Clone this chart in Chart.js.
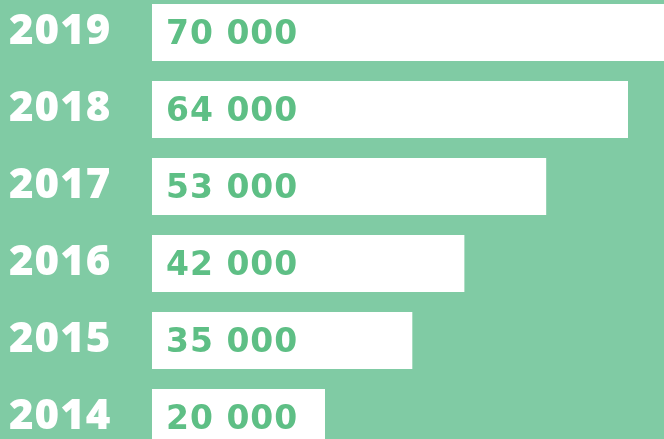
<!DOCTYPE html>
<html>
<head>
<meta charset="utf-8">
<script src="https://cdn.jsdelivr.net/npm/chart.js@4"></script>
<style>
    html, body { margin: 0; padding: 0; background: #80CBA4; overflow: hidden; }
    #wrap { position: relative; width: 664px; height: 439px; overflow: hidden; }
    #chart-box { position: absolute; left: 0; top: -6px; width: 664px; height: 462px; }
</style>
</head>
<body>
<div id="wrap">
    <div id="chart-box"><canvas id="years-chart"></canvas></div>
</div>
<script>
var years = ['2019', '2018', '2017', '2016', '2015', '2014'];
var visitors = [70000, 64000, 53000, 42000, 35000, 20000];
var axisMax = 68840;

var TEXT_GREEN = '#5EBF85';

function formatValue(v) {
    return String(v).replace(/\B(?=(\d{3})+(?!\d))/g, ' ');
}

// draws the year on the left and the number inside each bar
var barLabels = {
    id: 'barLabels',
    afterDatasetsDraw: function (chart) {
        var ctx = chart.ctx;
        var meta = chart.getDatasetMeta(0);
        var labels = chart.data.labels;
        var values = chart.data.datasets[0].data;
        ctx.save();
        ctx.textBaseline = 'alphabetic';
        ctx.textAlign = 'left';
        meta.data.forEach(function (bar, i) {
            ctx.fillStyle = '#FFFFFF';
            ctx.font = '800 42px "Open Sans"';
            ctx.letterSpacing = '1px';
            ctx.fillText(labels[i], 9, bar.y + 11);
            ctx.fillStyle = TEXT_GREEN;
            ctx.font = 'bold 33px "DejaVu Sans"';
            ctx.letterSpacing = '1px';
            ctx.fillText(formatValue(values[i]), chart.chartArea.left + 14, bar.y + 11);
        });
        ctx.restore();
    }
};

document.addEventListener('DOMContentLoaded', function () {
    var canvasEl = document.getElementById('years-chart');

    new Chart(canvasEl, {
        type: 'bar',
        data: {
            labels: years,
            datasets: [{
                data: visitors,
                backgroundColor: '#FFFFFF',
                borderWidth: 0,
                barPercentage: 0.74,
                categoryPercentage: 1,
                minBarLength: 173
            }]
        },
        options: {
            indexAxis: 'y',
            responsive: true,
            maintainAspectRatio: false,
            animation: false,
            layout: { padding: { left: 152, right: 0, top: 0, bottom: 0 } },
            plugins: {
                legend: { display: false },
                tooltip: { enabled: false }
            },
            scales: {
                x: {
                    display: false,
                    min: 0,
                    max: axisMax
                },
                y: {
                    display: false,
                    offset: true
                }
            }
        },
        plugins: [barLabels]
    });
});
</script>
</body>
</html>
